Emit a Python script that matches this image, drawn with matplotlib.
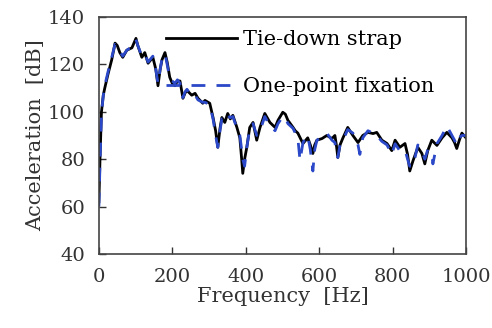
import numpy as np
import matplotlib
matplotlib.use("Agg")
import matplotlib.pyplot as plt

plt.rcParams["font.family"] = "DejaVu Serif"

FONTSIZE = 15

# Tie-down strap (black solid)
freq_strap = [0, 3, 7, 12, 16, 25, 35, 44, 50, 57, 65, 76, 90, 101, 106, 117, 125, 134,
              147, 155, 161, 167, 172, 180, 186, 193, 200, 207, 214, 221, 229, 235, 240,
              253, 262, 270, 283, 289, 302, 311, 318, 324, 330, 335, 343, 351, 358, 365,
              376, 384, 389, 392, 397, 403, 411, 420, 430, 439, 452, 466, 480, 488, 501,
              508, 515, 529, 535, 542, 556, 569, 576, 583, 588, 594, 608, 621, 635, 643,
              647, 651, 657, 665, 678, 692, 706, 719, 733, 747, 757, 771, 785, 798, 807,
              820, 834, 841, 847, 856, 869, 880, 888, 896, 907, 921, 935, 948, 962, 969,
              975, 982, 989, 1000]
acc_strap = [62, 80, 100, 107, 110, 116, 122, 129, 128, 125, 123, 126, 127, 131, 128, 123,
             125, 120.5, 123, 118, 111, 118, 122, 125, 121, 114.6, 112, 111, 113, 113,
             105.7, 108, 109, 107, 107.8, 105.7, 103.6, 104.8, 103.6, 97.6, 92, 85, 93,
             97.6, 95.5, 99.3, 97, 98.5, 93.4, 89, 80, 74, 80, 85, 93.4, 95.5, 88, 93.4,
             99.3, 95.5, 93.4, 96.4, 99.8, 99, 96.4, 93.4, 92, 91, 86.6, 89, 86, 82.4, 86,
             88, 88.7, 90, 88.7, 90, 86, 80.7, 86, 89, 93.4, 90, 87, 90, 91.3, 90.8, 91.3,
             88, 86.6, 83.6, 88, 85, 86.6, 82, 75, 79.4, 85, 82.4, 78, 83.6, 88, 85.8, 89,
             91.3, 89, 87, 84.5, 88, 91, 89]

# One-point fixation (blue dashed)
freq_fix = [0, 3, 7, 12, 16, 25, 35, 44, 50, 57, 65, 76, 90, 101, 106, 117, 125, 134,
            147, 155, 161, 167, 172, 180, 186, 193, 200, 207, 214, 221, 229, 235, 240,
            253, 262, 270, 283, 289, 302, 311, 318, 324, 330, 335, 343, 351, 358, 365,
            376, 384, 389, 392, 397, 403, 411, 420, 430, 439, 452, 466, 480, 488, 501,
            508, 515, 529, 535, 542, 548, 556, 569, 576, 583, 588, 594, 608, 621, 635,
            643, 647, 651, 657, 665, 678, 692, 706, 711, 719, 733, 747, 757, 771, 785,
            798, 807, 820, 834, 841, 847, 856, 869, 880, 888, 896, 907, 910, 921, 935,
            948, 962, 969, 975, 982, 989, 1000]
acc_fix = [60, 78, 99, 107, 111, 117, 123, 128.5, 128, 125.5, 123.5, 126, 127.5, 130.5,
           128, 123.5, 124.5, 121, 123.5, 118, 112, 118, 122.5, 124.5, 120, 114, 113, 112,
           113.5, 112, 106, 108.5, 109.5, 106.5, 107, 105, 104, 104, 103, 97, 90, 85, 92,
           97, 96, 98.5, 97.5, 98, 93, 90, 84, 80, 77, 85, 93, 95, 90, 92, 98, 94, 92, 95,
           98, 97.5, 95, 93, 91, 89, 79.4, 87, 90, 84, 75, 84, 88, 89.5, 91, 88, 87, 83,
           80.7, 86, 88, 92.5, 91, 86, 82, 89, 92, 91, 90, 87.5, 86, 82, 86.5, 83.5, 84,
           80, 77, 77, 86, 83.5, 80, 84, 82, 78, 86.5, 90, 94, 90, 88, 86, 89, 90, 90]

fig = plt.figure(figsize=(4.92, 3.28), dpi=100)
ax = fig.add_axes([0.201, 0.226, 0.746, 0.722])

ax.plot(freq_strap, acc_strap, color="black", lw=2, solid_joinstyle="round",
        label="Tie-down strap")
ax.plot(freq_fix, acc_fix, color="#2a48c8", lw=2, dashes=(5, 4),
        dash_joinstyle="round", label="One-point fixation")

ax.set_xlim(0, 1000)
ax.set_ylim(40, 140)
ax.set_xticks(np.arange(0, 1001, 200))
ax.set_yticks(np.arange(40, 141, 20))
ax.tick_params(direction="in", length=5, width=1, pad=10, labelsize=14,
               colors="#333333", labelcolor="#333333")
for s in ax.spines.values():
    s.set_linewidth(1.2)
    s.set_color("#444444")

ax.set_xlabel("Frequency  [Hz]", fontsize=FONTSIZE, color="#333333", labelpad=1)
ax.set_ylabel("Acceleration  [dB]", fontsize=FONTSIZE, color="#333333", labelpad=2)

ax.legend(loc="upper left", bbox_to_anchor=(0.183, 0.945), frameon=False,
          fontsize=FONTSIZE, handlelength=3.4, handletextpad=0.3, labelspacing=1.35,
          borderpad=0, borderaxespad=0)

fig.savefig("out.png", dpi=100)
